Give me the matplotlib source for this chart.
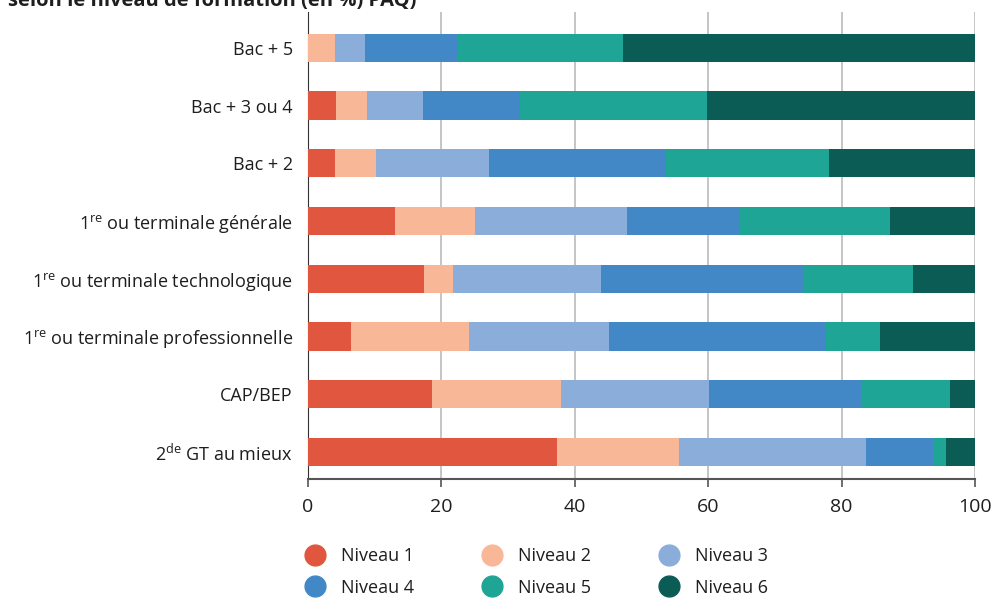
import matplotlib
matplotlib.use("Agg")
import matplotlib.pyplot as plt
from matplotlib.lines import Line2D

plt.rcParams['font.family'] = ['Open Sans', 'DejaVu Sans']
plt.rcParams['mathtext.fontset'] = 'custom'
plt.rcParams['mathtext.rm'] = 'Open Sans'

# formations (de haut en bas)
categories = [
    "Bac + 5",
    "Bac + 3 ou 4",
    "Bac + 2",
    "1$^{\\mathrm{re}}$ ou terminale générale",
    "1$^{\\mathrm{re}}$ ou terminale technologique",
    "1$^{\\mathrm{re}}$ ou terminale professionnelle",
    "CAP/BEP",
    "2$^{\\mathrm{de}}$ GT au mieux",
]
niveaux = ["Niveau 1", "Niveau 2", "Niveau 3", "Niveau 4", "Niveau 5", "Niveau 6"]
colors = ["#E1563F", "#F8B898", "#8BADDA", "#4388C6", "#1EA595", "#0B5C55"]

niveau1 = [0.0, 4.2, 4.1, 13.0, 17.4, 6.5, 18.6, 37.3]
niveau2 = [4.1, 4.7, 6.1, 12.1, 4.4, 17.6, 19.4, 18.3]
niveau3 = [4.4, 8.3, 17.0, 22.7, 22.2, 21.0, 22.1, 28.1]
niveau4 = [14.0, 14.6, 26.5, 17.0, 30.4, 32.6, 22.8, 10.0]
niveau5 = [24.8, 28.0, 24.4, 22.5, 16.3, 8.1, 13.3, 2.0]
niveau6 = [52.7, 40.2, 21.9, 12.7, 9.3, 14.2, 3.8, 4.3]
series = [niveau1, niveau2, niveau3, niveau4, niveau5, niveau6]

fig = plt.figure(figsize=(9.91, 5.99), dpi=100)
ax = fig.add_axes([308 / 991, 1 - 479 / 599, 667 / 991, 467 / 599])

y = list(range(len(categories)))
left = [0.0] * len(categories)
for vals, col, lab in zip(series, colors, niveaux):
    ax.barh(y, vals, left=left, height=0.49, color=col, label=lab, zorder=3)
    left = [l + v for l, v in zip(left, vals)]

ax.set_xlim(0, 100)
ax.set_ylim(7.47, -0.62)
ax.set_xticks([0, 20, 40, 60, 80, 100])
ax.set_yticks(y)
ax.set_yticklabels(categories, fontsize=13, color="#1e1e1e")
ax.tick_params(axis='y', length=0, pad=11)
ax.tick_params(axis='x', labelsize=14, colors="#1e1e1e", length=6, width=1.2,
               color="#555555", pad=8)
ax.grid(axis='x', color="#bbbbbb", linewidth=1.2, zorder=0)
for s in ['top', 'right']:
    ax.spines[s].set_visible(False)
ax.spines['left'].set_color("#333333")
ax.spines['bottom'].set_color("#555555")
ax.spines['bottom'].set_linewidth(1.5)

fig.text(0.008, 0.999, "selon le niveau de formation (en %) PAQ)", fontsize=14.5,
         fontweight='bold', va='center', ha='left', color="#1e1e1e")

# ordre ligne par ligne : 1 2 3 / 4 5 6
order = [0, 3, 1, 4, 2, 5]
handles = [Line2D([], [], marker='o', linestyle='', markersize=15,
                  markerfacecolor=colors[i], markeredgecolor=colors[i]) for i in order]
labels = [niveaux[i] for i in order]
fig.legend(handles, labels, ncol=3, loc='upper left',
           bbox_to_anchor=(281 / 991, 1 - 531 / 599), frameon=False,
           fontsize=13, handletextpad=0.45, columnspacing=3.3,
           labelspacing=0.75, labelcolor="#1e1e1e")

fig.savefig("out.png", dpi=100)
